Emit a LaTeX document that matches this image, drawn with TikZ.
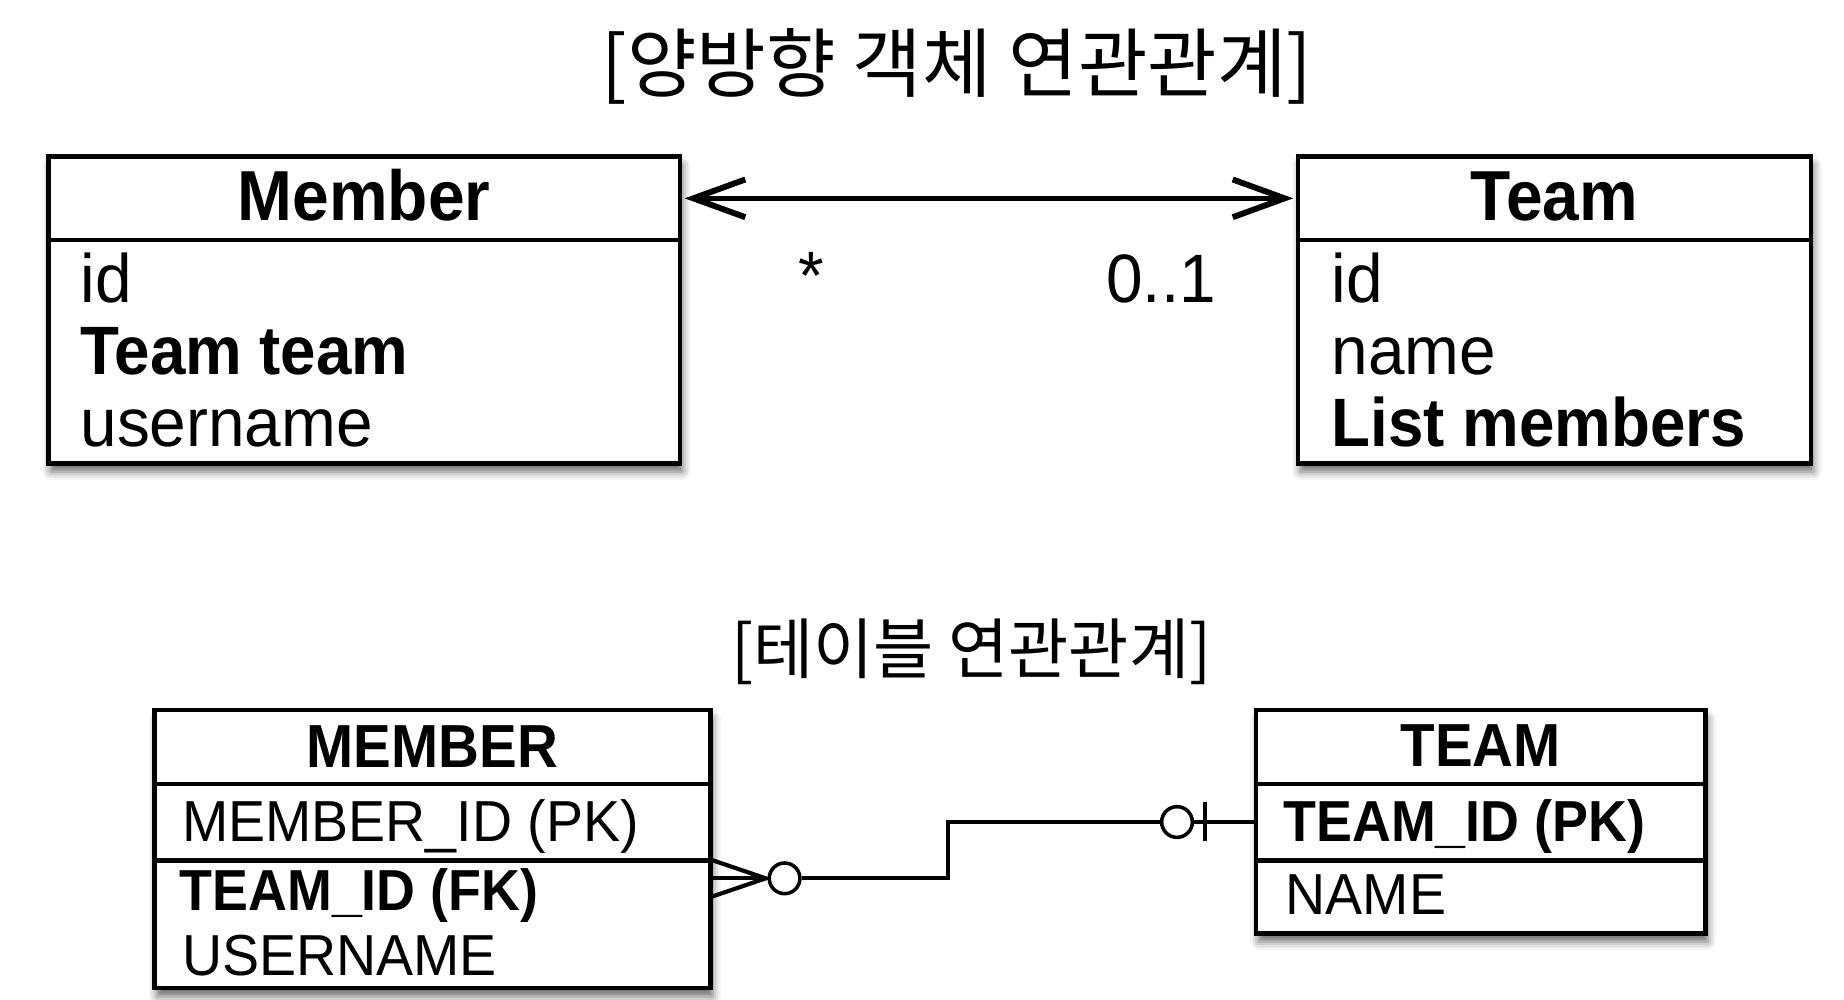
\documentclass[tikz,border=0pt]{standalone}
\usepackage{fontspec}
\usepackage{graphicx}
\setmainfont{Liberation Sans}[FakeStretch=0.96]
\newfontfamily\bfc{Liberation Sans}[FakeStretch=0.93]
\newfontfamily\krf{Noto Sans CJK KR}
\usetikzlibrary{arrows.meta,shadows.blur,backgrounds,calc}
\begin{document}
\begin{tikzpicture}[x=1pt,y={(0pt,-1pt)},
  bx/.style={draw, line width=4pt, fill=white, inner sep=0pt, outer sep=0pt, anchor=north west},
  shd/.style={fill=white, blur shadow={shadow xshift=2pt, shadow yshift=-7pt, shadow blur radius=7pt, shadow opacity=60}},
  fld/.style={anchor=base west, inner sep=0pt, font=\fontsize{58}{60}\selectfont},
  fldb/.style={anchor=base west, inner sep=0pt, font=\bfc\bfseries\fontsize{58}{60}\selectfont},
  hdr/.style={anchor=base, inner sep=0pt, font=\bfc\bfseries\fontsize{60}{62}\selectfont},
  lfld/.style={anchor=base west, inner sep=0pt, font=\fontsize{49}{51}\selectfont},
  lfldb/.style={anchor=base west, inner sep=0pt, font=\bfc\bfseries\fontsize{49}{51}\selectfont},
  lhdr/.style={anchor=base, inner sep=0pt, font=\bfc\bfseries\fontsize{51.5}{53}\selectfont},
  ttl/.style={anchor=base, inner sep=0pt},
  conn/.style={line width=3.5pt},
  erc/.style={circle, draw, line width=3pt, minimum size=26pt, inner sep=0pt, fill=white},
  barb/.style={line width=4pt, {Straight Barb[length=44pt,width=32pt,line width=5pt]}-{Straight Barb[length=44pt,width=32pt,line width=5pt]}}
]
\useasboundingbox (0,0) rectangle (1562,847);

% titles
\node[ttl] (t1) at (810.5,77.5) {\krf\fontsize{64}{66}\selectfont [양방향 객체 연관관계]};
\node[ttl] (t2) at (822.7,570.6) {\krf\fontsize{56}{58}\selectfont\scalebox{0.99}[1]{[테이블 연관관계]}};

% upper Member box
\node[bx, minimum width=535pt, minimum height=70.6pt] (memH) at (41,132.7) {};
\node[bx, minimum width=535pt, minimum height=189.2pt] (memB) at (41,203.3) {};
\node[hdr] (memT) at (308.5,187) {Member};
\node[fld] (memF1) at (68,256) {id};
\node[fldb] (memF2) at (68,317.5) {Team team};
\node[fld] (memF3) at (68,378.5) {username};

% upper Team box
\node[bx, minimum width=434.5pt, minimum height=70.6pt] (teamH) at (1099.5,132.7) {};
\node[bx, minimum width=434.5pt, minimum height=189.2pt] (teamB) at (1099.5,203.3) {};
\node[hdr] (teamT) at (1316.7,187) {Team};
\node[fld] (teamF1) at (1128,256) {id};
\node[fld] (teamF2) at (1128,317.5) {name};
\node[fldb] (teamF3) at (1128,378.5) {List members};

% association
\draw[barb, shorten <=4pt, shorten >=4pt] (memH.east) -- (teamH.west);
\node[anchor=base, inner sep=0pt, font=\fontsize{58}{60}\selectfont] (mstar) at (687,254) {*};
\node[fld] (mone) at (937,256) {0..1};

% lower MEMBER table
\node[bx, minimum width=470.6pt, minimum height=62.6pt] (tmH) at (131,601.4) {};
\node[bx, minimum width=470.6pt, minimum height=64.6pt] (tmPK) at (131,664) {};
\node[bx, minimum width=470.6pt, minimum height=108.4pt] (tmR) at (131,728.6) {};
\node[lhdr] (tmT) at (366.3,650) {MEMBER};
\node[lfld] (tmF1) at (154,713) {MEMBER\_ID (PK)};
\node[lfldb] (tmF2) at (152,771) {TEAM\_ID (FK)};
\node[lfld] (tmF3) at (154,826) {USERNAME};

% lower TEAM table
\node[bx, minimum width=380.6pt, minimum height=62.6pt] (ttH) at (1064,601.4) {};
\node[bx, minimum width=380.6pt, minimum height=64.6pt] (ttPK) at (1064,664) {};
\node[bx, minimum width=380.6pt, minimum height=62pt] (ttR) at (1064,728.6) {};
\node[lhdr] (ttT) at (1254.3,649) {TEAM};
\node[lfldb] (ttF1) at (1087,713) {TEAM\_ID (PK)};
\node[lfld] (ttF2) at (1089,775) {NAME};

% relationship connector
\coordinate (cf) at ([yshift=-15.4pt]tmR.north east);
\coordinate (apex) at ([xshift=47pt]cf);
\draw[conn] (cf) -- (apex);
\draw[conn] ([yshift=16pt]cf) -- (apex) -- ([yshift=-16pt]cf);
\node[erc] (c1) at ([xshift=16pt]apex) {};
\node[erc] (c2) at ([xshift=-67pt]ttPK.west) {};
\coordinate (jog) at (803,0);
\draw[conn] (c1.east) -- (c1.east -| jog) -- (jog |- ttPK.west) -- (c2.west);
\coordinate (tk) at ([xshift=-43pt]ttPK.west);
\draw[conn] ([yshift=17pt]tk) -- ([yshift=-16pt]tk);
\draw[conn] (c2.east) -- (ttPK.west);

% shadows
\begin{scope}[on background layer]
\path[shd] (memH.north west) rectangle (memB.south east);
\path[shd] (teamH.north west) rectangle (teamB.south east);
\path[shd] (tmH.north west) rectangle (tmR.south east);
\path[shd] (ttH.north west) rectangle (ttR.south east);
\end{scope}
\end{tikzpicture}
\end{document}
